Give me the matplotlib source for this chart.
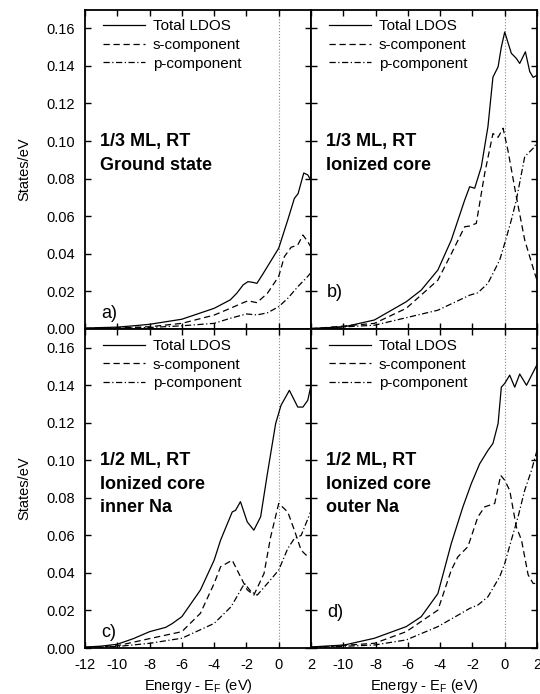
import matplotlib
matplotlib.use("Agg")
import matplotlib.pyplot as plt

plt.rcParams['font.family'] = ['Liberation Sans', 'DejaVu Sans']
plt.rcParams['axes.unicode_minus'] = False

# ---------------- data ----------------
# Panel a) 1/3 ML, RT, ground state
Ea_tot = [-12, -10, -9, -8, -6, -4, -3, -2.6, -2.2, -1.9, -1.6, -1.35, -1.0, -0.7, 0, 0.56, 0.97, 1.2, 1.55, 1.8, 2.0]
a_tot = [0.0005, 0.001, 0.0017, 0.0025, 0.0052, 0.011, 0.0155, 0.019, 0.0235, 0.0252, 0.0248, 0.0243, 0.029, 0.0332, 0.043, 0.058, 0.0695, 0.072, 0.083, 0.082, 0.079]
Ea_s = [-12, -10, -8, -6, -4, -3, -2.2, -1.9, -1.35, -0.7, 0, 0.35, 0.77, 1.18, 1.5, 1.8, 2.0]
a_s = [0.0003, 0.0006, 0.0012, 0.003, 0.0074, 0.011, 0.014, 0.015, 0.014, 0.019, 0.028, 0.0385, 0.0435, 0.0447, 0.050, 0.0465, 0.0435]
Ea_p = [-12, -10, -8, -6, -4, -3, -2, -1.35, -0.7, 0, 0.56, 1.18, 1.8, 2.0]
a_p = [0.0002, 0.0004, 0.0008, 0.0017, 0.003, 0.0057, 0.008, 0.0075, 0.0086, 0.0119, 0.0163, 0.0225, 0.028, 0.030]

# Panel b) 1/3 ML, RT, ionized core
Eb_tot = [-12, -11.7, -9.93, -8.07, -6.1, -5.17, -4.14, -3.31, -2.48, -2.17, -1.86, -1.45, -1.04, -0.73, -0.41, -0.21, 0, 0.41, 0.72, 0.93, 1.28, 1.55, 1.76, 2.0]
b_tot = [0.0003, 0.0004, 0.0012, 0.0048, 0.0145, 0.0207, 0.0314, 0.0473, 0.0686, 0.0757, 0.0749, 0.0863, 0.1076, 0.134, 0.1395, 0.150, 0.158, 0.1467, 0.144, 0.1413, 0.1475, 0.137, 0.1339, 0.135]
Eb_s = [-12, -11.7, -8.07, -6.1, -4.14, -3.31, -2.48, -2.17, -1.76, -1.24, -0.73, -0.41, -0.1, 0.2, 0.72, 1.24, 1.86, 2.0]
b_s = [0.0002, 0.0003, 0.003, 0.011, 0.026, 0.040, 0.0544, 0.0548, 0.0562, 0.0828, 0.104, 0.102, 0.1068, 0.095, 0.0704, 0.0473, 0.0296, 0.026]
Eb_p = [-12, -11.7, -8.07, -4.14, -2.17, -1.66, -1.04, -0.31, 0, 0.41, 0.72, 1.24, 1.86, 2.0]
b_p = [0.0002, 0.0003, 0.002, 0.010, 0.018, 0.0193, 0.0243, 0.0367, 0.0456, 0.058, 0.0686, 0.0917, 0.097, 0.1005]

# Panel c) 1/2 ML, RT, ionized core, inner Na
Ec_tot = [-12, -11, -10, -9, -8, -7, -6.6, -6, -4.85, -4, -3.6, -2.88, -2.67, -2.37, -1.95, -1.54, -1.12, -0.7, -0.19, 0.14, 0.66, 1.18, 1.5, 1.8, 2.0]
c_tot = [0.0005, 0.001, 0.002, 0.005, 0.0087, 0.011, 0.013, 0.0167, 0.0309, 0.0468, 0.0575, 0.0725, 0.0734, 0.078, 0.0672, 0.0628, 0.0699, 0.093, 0.1196, 0.1293, 0.1373, 0.1284, 0.1284, 0.132, 0.140]
Ec_s = [-12, -10, -8, -6, -4.85, -4, -3.6, -2.88, -2.37, -1.95, -1.54, -0.91, -0.5, 0, 0.56, 0.97, 1.39, 1.7, 2.0]
c_s = [0.0003, 0.0012, 0.005, 0.0087, 0.0185, 0.0344, 0.0433, 0.0468, 0.038, 0.031, 0.0282, 0.0397, 0.0592, 0.077, 0.0725, 0.0628, 0.0521, 0.0495, 0.051]
Ec_p = [-12, -10, -8, -6, -4, -2.95, -2.12, -1.71, -1.33, -0.7, 0, 0.56, 0.97, 1.39, 2.0]
c_p = [0.0002, 0.0008, 0.0025, 0.0052, 0.0131, 0.022, 0.0344, 0.030, 0.0282, 0.0344, 0.0415, 0.053, 0.0584, 0.060, 0.073]

# Panel d) 1/2 ML, RT, ionized core, outer Na
Ed_tot = [-12, -11.7, -9.93, -8.07, -6.1, -5.17, -4.14, -3.31, -2.59, -2.07, -1.55, -1.04, -0.73, -0.41, -0.21, 0, 0.31, 0.62, 0.93, 1.35, 2.0]
d_tot = [0.0006, 0.0007, 0.0016, 0.0052, 0.0114, 0.0167, 0.029, 0.0557, 0.0752, 0.0876, 0.0982, 0.1053, 0.109, 0.1196, 0.139, 0.141, 0.1454, 0.139, 0.146, 0.140, 0.151]
Ed_s = [-12, -11.7, -8.07, -6.1, -4.14, -3.31, -2.9, -2.28, -1.66, -1.24, -0.62, -0.25, 0, 0.31, 0.72, 1.04, 1.45, 1.76, 2.0]
d_s = [0.0003, 0.0004, 0.0025, 0.0087, 0.0202, 0.0415, 0.0486, 0.054, 0.0699, 0.0752, 0.077, 0.092, 0.0894, 0.084, 0.0645, 0.0575, 0.039, 0.0344, 0.0344]
Ed_p = [-12, -11.7, -8.07, -6.1, -4.14, -2.69, -2.17, -1.66, -1.04, -0.31, 0, 0.41, 0.83, 1.24, 1.66, 2.0]
d_p = [0.0002, 0.0003, 0.0016, 0.0043, 0.0114, 0.0185, 0.0211, 0.0229, 0.0273, 0.038, 0.045, 0.0575, 0.070, 0.0841, 0.0947, 0.1053]

panel_letters = ["a)", "b)", "c)", "d)"]
panel_texts = [["1/3 ML, RT", "Ground state"],
               ["1/3 ML, RT", "Ionized core"],
               ["1/2 ML, RT", "Ionized core", "inner Na"],
               ["1/2 ML, RT", "Ionized core", "outer Na"]]
legend_labels = ["Total LDOS", "s-component", "p-component"]
xticks = [-12, -10, -8, -6, -4, -2, 0, 2]
yticks = [0.00, 0.02, 0.04, 0.06, 0.08, 0.10, 0.12, 0.14, 0.16]

series = [
    (Ea_tot, a_tot, Ea_s, a_s, Ea_p, a_p),
    (Eb_tot, b_tot, Eb_s, b_s, Eb_p, b_p),
    (Ec_tot, c_tot, Ec_s, c_s, Ec_p, c_p),
    (Ed_tot, d_tot, Ed_s, d_s, Ed_p, d_p),
]

# ---------------- figure ----------------
W, H = 540, 694
fig = plt.figure(figsize=(W / 100, H / 100), dpi=100)

left_px, mid_px, right_px = 85, 311, 537
top_px, midy_px, bot_px = 9.5, 329, 648

def ax_rect(x0, x1, y0, y1):
    return [x0 / W, 1 - y1 / H, (x1 - x0) / W, (y1 - y0) / H]

rects = [ax_rect(left_px, mid_px, top_px, midy_px),
         ax_rect(mid_px, right_px, top_px, midy_px),
         ax_rect(left_px, mid_px, midy_px, bot_px),
         ax_rect(mid_px, right_px, midy_px, bot_px)]

letter_y = [0.05, 0.115, 0.05, 0.11]
text_y = [0.587, 0.513, 0.440]

for i, rect in enumerate(rects):
    ax = fig.add_axes(rect)
    Et, vt, Es, vs, Ep, vp = series[i]
    l1, = ax.plot(Et, vt, color='black', lw=0.9, ls='-')
    l2, = ax.plot(Es, vs, color='black', lw=0.9, ls=(0, (5, 3)))
    l3, = ax.plot(Ep, vp, color='black', lw=0.9, ls=(0, (5, 2, 1, 2)))
    ax.axvline(0, color='#888888', lw=0.8, ls=':', zorder=0)
    ax.set_xlim(-12, 2)
    ax.set_ylim(0, 0.17)
    ax.set_xticks(xticks)
    ax.set_yticks(yticks)
    ax.tick_params(direction='in', top=True, right=True, length=4, width=1,
                   labelsize=10.5, pad=7)
    for sp in ax.spines.values():
        sp.set_linewidth(1.3)
    if i in (0, 1):
        ax.tick_params(labelbottom=False)
    if i in (1, 3):
        ax.tick_params(labelleft=False)
    else:
        ax.yaxis.set_major_formatter(matplotlib.ticker.FormatStrFormatter('%.2f'))
        ax.set_ylabel("States/eV", fontsize=10.5, labelpad=11)
    if i == 3:
        ax.set_xticks(xticks)
        ax.set_xticklabels([''] + [str(t) for t in xticks[1:]])
    if i in (2, 3):
        ax.set_xlabel("Energy - E$_\\mathregular{F}$ (eV)", fontsize=10.5, labelpad=4)
    ax.legend([l1, l2, l3], legend_labels, loc='upper left', frameon=False,
              fontsize=11, handlelength=2.75, handletextpad=0.52,
              labelspacing=0.3, borderaxespad=0.0, borderpad=0.0,
              bbox_to_anchor=(18 / 226, 1 - 10 / 319.5))
    for k, line in enumerate(panel_texts[i]):
        ax.text(0.066, text_y[k], line, transform=ax.transAxes, fontsize=13,
                fontweight='bold', ha='left', va='center')
    ax.text(0.07, letter_y[i], panel_letters[i], transform=ax.transAxes,
            fontsize=13, ha='left', va='center')

fig.savefig("out.png", dpi=100)
